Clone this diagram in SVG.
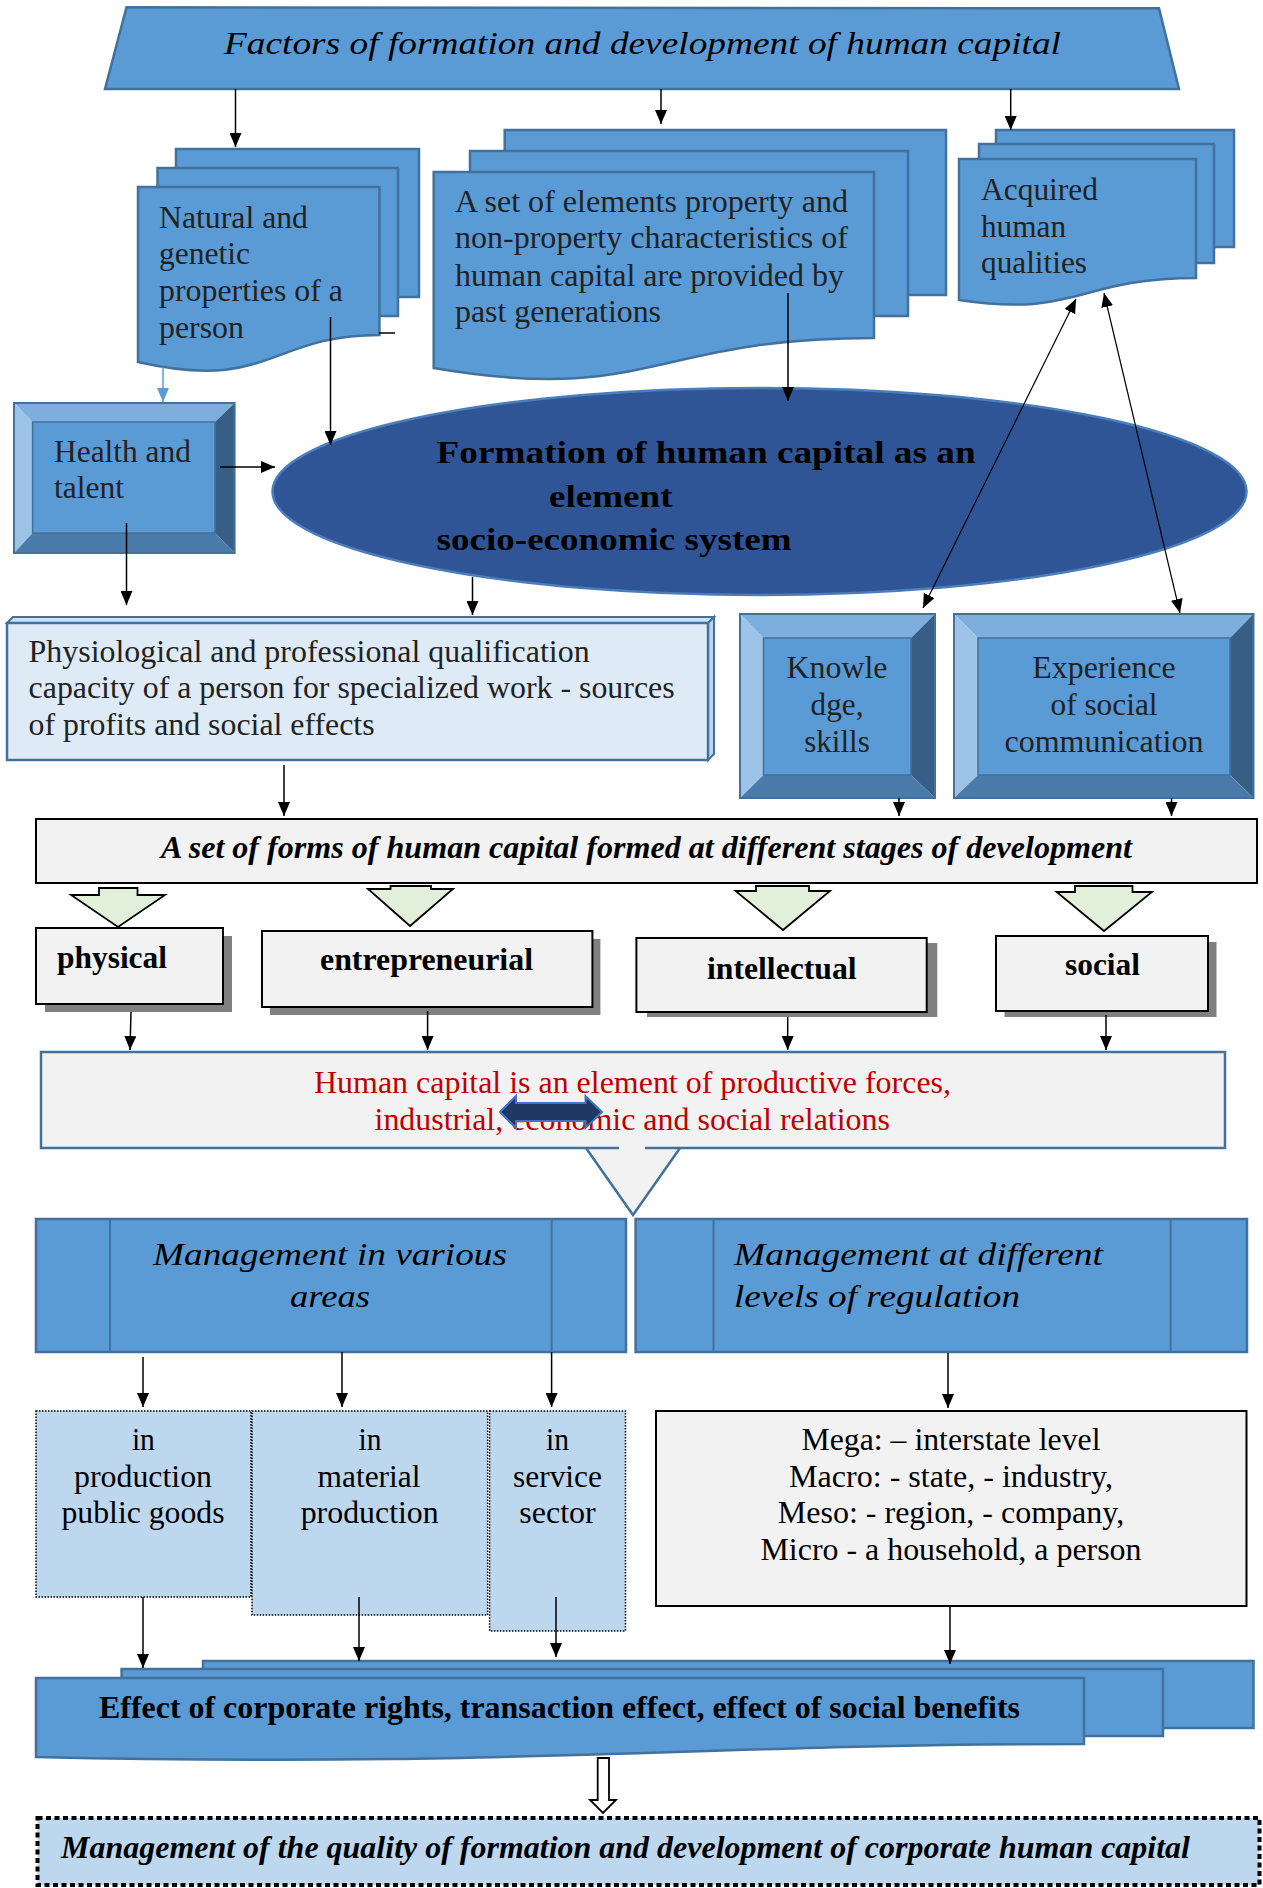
<svg xmlns="http://www.w3.org/2000/svg" width="1263" height="1888" viewBox="0 0 1263 1888">
<defs>
<style>
.doc{fill:#5b9bd5;stroke:#41719c;stroke-width:2.5}
.t{font-family:"Liberation Serif","Times New Roman",serif;font-size:31px;fill:#222}
.bd{font-weight:bold;fill:#000}
.it{font-style:italic;fill:#000}
.c{text-anchor:middle}
.bt{fill:#7eaede}.bl{fill:#9dc3e6}.br{fill:#375f86}.bb{fill:#4a7bab}
.bi{fill:#5b9bd5;stroke:#41719c;stroke-width:1.5}
.bo{fill:none;stroke:#41719c;stroke-width:2}
.grey{fill:#f2f2f2;stroke:#000;stroke-width:2}
.shadow{fill:#808080}
.garrow{fill:#e2efda;stroke:#000;stroke-width:1.8}
.dot{fill:#bdd7ee;stroke:#000;stroke-width:1.5;stroke-dasharray:1.5 1.5}
.conn line,.conn path{stroke:#000;stroke-width:1.5;fill:none}
</style>
<marker id="ah" viewBox="0 0 14 12" refX="14" refY="6" markerWidth="14" markerHeight="12" markerUnits="userSpaceOnUse" orient="auto-start-reverse"><path d="M0,0 L14,6 L0,12 z" fill="#000"/></marker>
<marker id="ahb" viewBox="0 0 14 12" refX="14" refY="6" markerWidth="14" markerHeight="12" markerUnits="userSpaceOnUse" orient="auto"><path d="M0,0 L14,6 L0,12 z" fill="#5b9bd5"/></marker>
</defs>
<rect width="1263" height="1888" fill="#fff"/>

<g id="title">
<polygon class="doc" points="126.5,7.3 1159,8.3 1179,89 105,89"/>
<text class="t it" x="224" y="54" font-size="35" textLength="837" lengthAdjust="spacingAndGlyphs">Factors of formation and development of human capital</text>
</g>

<g id="natural">
<rect class="doc" x="176" y="149" width="243" height="148"/>
<rect class="doc" x="157.5" y="168" width="240.5" height="148"/>
<path class="doc" d="M138,187 H379.4 V335 C270,335 270,392 138,362 Z"/>
<text class="t" x="159" y="228" textLength="149" lengthAdjust="spacingAndGlyphs">Natural and</text>
<text class="t" x="159" y="264" textLength="91" lengthAdjust="spacingAndGlyphs">genetic</text>
<text class="t" x="159" y="301" textLength="184" lengthAdjust="spacingAndGlyphs">properties of a</text>
<text class="t" x="159" y="338" textLength="85" lengthAdjust="spacingAndGlyphs">person</text>
</g>

<g id="set-elements">
<rect class="doc" x="504.7" y="130" width="441.3" height="165"/>
<rect class="doc" x="470" y="151" width="438" height="165"/>
<path class="doc" d="M433.7,172 H874 V338 C650,338 650,405 433.7,368 Z"/>
<text class="t" x="455" y="212" textLength="393" lengthAdjust="spacingAndGlyphs">A set of elements property and</text>
<text class="t" x="455" y="248" textLength="393" lengthAdjust="spacingAndGlyphs">non-property characteristics of</text>
<text class="t" x="455" y="286" textLength="389" lengthAdjust="spacingAndGlyphs">human capital are provided by</text>
<text class="t" x="455" y="322" textLength="206" lengthAdjust="spacingAndGlyphs">past generations</text>
</g>

<g id="acquired">
<rect class="doc" x="996" y="130" width="238" height="117"/>
<rect class="doc" x="979" y="144" width="235" height="119"/>
<path class="doc" d="M959,159 H1196 V278 C1078,278 1078,318 959,300 Z"/>
<text class="t" x="981" y="200" textLength="117" lengthAdjust="spacingAndGlyphs">Acquired</text>
<text class="t" x="981" y="237" textLength="85" lengthAdjust="spacingAndGlyphs">human</text>
<text class="t" x="981" y="273" textLength="106" lengthAdjust="spacingAndGlyphs">qualities</text>
</g>

<g id="health">
<polygon class="bt" points="14,403 234.6,403 215,422 32.6,422"/>
<polygon class="bl" points="14,403 32.6,422 32.6,533 14,553"/>
<polygon class="br" points="234.6,403 234.6,553 215,533 215,422"/>
<polygon class="bb" points="14,553 32.6,533 215,533 234.6,553"/>
<rect class="bi" x="32.6" y="422" width="182.4" height="111"/>
<rect class="bo" x="14" y="403" width="220.6" height="150"/>
<text class="t" x="54" y="462" textLength="137" lengthAdjust="spacingAndGlyphs">Health and</text>
<text class="t" x="54" y="498" textLength="70" lengthAdjust="spacingAndGlyphs">talent</text>
</g>

<g id="formation">
<ellipse cx="759.5" cy="491.5" rx="487" ry="103.5" fill="#2f5597" stroke="#4a7ebb" stroke-width="2.5"/>
<text class="t bd" x="436.6" y="463" font-size="34" textLength="539" lengthAdjust="spacingAndGlyphs">Formation of human capital as an</text>
<text class="t bd" x="549" y="507" font-size="34" textLength="123.5" lengthAdjust="spacingAndGlyphs">element</text>
<text class="t bd" x="436.6" y="550" font-size="34" textLength="355" lengthAdjust="spacingAndGlyphs">socio-economic system</text>
</g>

<g id="physiological">
<polygon points="7,623 13,617 714,617 708,623" fill="#cfe0f2" stroke="#41719c" stroke-width="2"/>
<polygon points="708,623 714,617 714,754 708,760" fill="#bcd3ea" stroke="#41719c" stroke-width="2"/>
<rect x="7" y="623" width="701" height="137" fill="#deebf7" stroke="#41719c" stroke-width="2.5"/>
<text class="t" x="28.6" y="662" textLength="561" lengthAdjust="spacingAndGlyphs">Physiological and professional qualification</text>
<text class="t" x="28.6" y="698" textLength="646" lengthAdjust="spacingAndGlyphs">capacity of a person for specialized work - sources</text>
<text class="t" x="28.6" y="735" textLength="346" lengthAdjust="spacingAndGlyphs">of profits and social effects</text>
</g>

<g id="knowledge">
<polygon class="bt" points="740,614 935,614 911,638 763.5,638"/>
<polygon class="bl" points="740,614 763.5,638 763.5,775 740,798"/>
<polygon class="br" points="935,614 935,798 911,775 911,638"/>
<polygon class="bb" points="740,798 763.5,775 911,775 935,798"/>
<rect class="bi" x="763.5" y="638" width="147.5" height="137"/>
<rect class="bo" x="740" y="614" width="195" height="184"/>
<text class="t c" x="837" y="678" textLength="101" lengthAdjust="spacingAndGlyphs">Knowle</text>
<text class="t c" x="837" y="715" textLength="53" lengthAdjust="spacingAndGlyphs">dge,</text>
<text class="t c" x="837" y="752" textLength="65.6" lengthAdjust="spacingAndGlyphs">skills</text>
</g>

<g id="experience">
<polygon class="bt" points="954,614 1253.5,614 1230,638 978,638"/>
<polygon class="bl" points="954,614 978,638 978,775 954,798"/>
<polygon class="br" points="1253.5,614 1253.5,798 1230,775 1230,638"/>
<polygon class="bb" points="954,798 978,775 1230,775 1253.5,798"/>
<rect class="bi" x="978" y="638" width="252" height="137"/>
<rect class="bo" x="954" y="614" width="299.5" height="184"/>
<text class="t c" x="1104" y="678" textLength="143.5" lengthAdjust="spacingAndGlyphs">Experience</text>
<text class="t c" x="1104" y="715" textLength="107" lengthAdjust="spacingAndGlyphs">of social</text>
<text class="t c" x="1104" y="752" textLength="199" lengthAdjust="spacingAndGlyphs">communication</text>
</g>

<g id="set-forms">
<rect class="grey" x="36" y="819" width="1221" height="64"/>
<text class="t bd it" x="161" y="858" font-size="30" textLength="971" lengthAdjust="spacingAndGlyphs">A set of forms of human capital formed at different stages of development</text>
</g>

<g id="form-arrows">
<polygon class="garrow" points="99,888 137.5,888 137.5,895 165,895 118,927 71,895 99,895"/>
<polygon class="garrow" points="390.5,886 431,886 431,889 453,889 410,926 368,889 390.5,889"/>
<polygon class="garrow" points="756,886 809,886 809,891 830,891 783,930 735.6,891 756,891"/>
<polygon class="garrow" points="1075,886 1132.5,886 1132.5,892 1152,892 1104,931 1056.6,892 1075,892"/>
</g>

<g id="physical">
<rect class="shadow" x="45" y="936" width="187" height="76"/>
<rect class="grey" x="36" y="928" width="187" height="76"/>
<text class="t bd" x="57" y="968" textLength="110" lengthAdjust="spacingAndGlyphs">physical</text>
</g>
<g id="entrepreneurial">
<rect class="shadow" x="270" y="939" width="330.4" height="76"/>
<rect class="grey" x="262" y="931" width="330.4" height="76"/>
<text class="t bd" x="320" y="970" textLength="213" lengthAdjust="spacingAndGlyphs">entrepreneurial</text>
</g>
<g id="intellectual">
<rect class="shadow" x="647" y="943" width="290.3" height="74"/>
<rect class="grey" x="636.4" y="938" width="290.3" height="74"/>
<text class="t bd" x="707" y="979" textLength="149.6" lengthAdjust="spacingAndGlyphs">intellectual</text>
</g>
<g id="social">
<rect class="shadow" x="1004.5" y="942" width="212" height="75"/>
<rect class="grey" x="996" y="936" width="212" height="75"/>
<text class="t bd" x="1065" y="975" textLength="75" lengthAdjust="spacingAndGlyphs">social</text>
</g>

<g id="human-capital">
<path d="M41,1052 H1225 V1148 H680 L633,1215 L586,1148 H41 Z" fill="#f2f2f2" stroke="#41719c" stroke-width="2.5"/>
<line x1="586" y1="1148" x2="619" y2="1148" stroke="#41719c" stroke-width="2.5"/>
<line x1="645" y1="1148" x2="680" y2="1148" stroke="#41719c" stroke-width="2.5"/>
<text class="t" x="314" y="1093" fill="#c00000" style="fill:#c00000" textLength="637" lengthAdjust="spacingAndGlyphs">Human capital is an element of productive forces,</text>
<text class="t" x="374.5" y="1130" style="fill:#c00000" textLength="515.5" lengthAdjust="spacingAndGlyphs">industrial, economic and social relations</text>
<polygon points="500,1112 516,1096 516,1103 585.5,1103 585.5,1096 602,1112 585.5,1128 585.5,1121 516,1121 516,1128" fill="#1f3864" stroke="#4472c4" stroke-width="2"/>
</g>

<g id="mgmt-areas">
<rect class="doc" x="36" y="1219" width="590" height="133"/>
<line x1="110" y1="1219" x2="110" y2="1352" stroke="#41719c" stroke-width="2"/>
<line x1="551.6" y1="1219" x2="551.6" y2="1352" stroke="#41719c" stroke-width="2"/>
<text class="t it c" x="330" y="1265" font-size="37" textLength="354" lengthAdjust="spacingAndGlyphs">Management in various</text>
<text class="t it c" x="330" y="1307" font-size="37" textLength="80" lengthAdjust="spacingAndGlyphs">areas</text>
</g>

<g id="mgmt-levels">
<rect class="doc" x="635.6" y="1219" width="611.4" height="133"/>
<line x1="713.5" y1="1219" x2="713.5" y2="1352" stroke="#41719c" stroke-width="2"/>
<line x1="1170.6" y1="1219" x2="1170.6" y2="1352" stroke="#41719c" stroke-width="2"/>
<text class="t it" x="734" y="1265" font-size="37" textLength="369" lengthAdjust="spacingAndGlyphs">Management at different</text>
<text class="t it" x="734" y="1307" font-size="37" textLength="286" lengthAdjust="spacingAndGlyphs">levels of regulation</text>
</g>

<g id="public-goods">
<rect class="dot" x="36" y="1411" width="215" height="186"/>
<text class="t c" x="143.4" y="1450" style="fill:#000" textLength="23" lengthAdjust="spacingAndGlyphs">in</text>
<text class="t c" x="143" y="1487" style="fill:#000" textLength="138" lengthAdjust="spacingAndGlyphs">production</text>
<text class="t c" x="143" y="1523" style="fill:#000" textLength="163" lengthAdjust="spacingAndGlyphs">public goods</text>
</g>
<g id="material">
<rect class="dot" x="252" y="1411" width="235.6" height="204"/>
<text class="t c" x="370" y="1450" style="fill:#000" textLength="23" lengthAdjust="spacingAndGlyphs">in</text>
<text class="t c" x="369" y="1487" style="fill:#000" textLength="103" lengthAdjust="spacingAndGlyphs">material</text>
<text class="t c" x="369.7" y="1523" style="fill:#000" textLength="138" lengthAdjust="spacingAndGlyphs">production</text>
</g>
<g id="service">
<rect class="dot" x="489.6" y="1411" width="135.9" height="220"/>
<text class="t c" x="557.5" y="1450" style="fill:#000" textLength="23" lengthAdjust="spacingAndGlyphs">in</text>
<text class="t c" x="557.5" y="1487" style="fill:#000" textLength="89" lengthAdjust="spacingAndGlyphs">service</text>
<text class="t c" x="557.5" y="1523" style="fill:#000" textLength="76.5" lengthAdjust="spacingAndGlyphs">sector</text>
</g>

<g id="levels">
<rect class="grey" x="656" y="1411" width="590.5" height="195"/>
<text class="t c" x="951" y="1450" style="fill:#000" textLength="299" lengthAdjust="spacingAndGlyphs">Mega: – interstate level</text>
<text class="t c" x="951" y="1487" style="fill:#000" textLength="324" lengthAdjust="spacingAndGlyphs">Macro: - state, - industry,</text>
<text class="t c" x="951" y="1523" style="fill:#000" textLength="346.5" lengthAdjust="spacingAndGlyphs">Meso: - region, - company,</text>
<text class="t c" x="951" y="1560" style="fill:#000" textLength="381" lengthAdjust="spacingAndGlyphs">Micro - a household, a person</text>
</g>

<g id="effect">
<rect class="doc" x="203" y="1661" width="1050.5" height="67"/>
<rect class="doc" x="121.6" y="1669" width="1041.4" height="67"/>
<path class="doc" d="M36,1678 H1084 V1744 C700,1744 500,1768 36,1757 Z"/>
<text class="t bd" x="99" y="1718" font-size="29" textLength="921" lengthAdjust="spacingAndGlyphs">Effect of corporate rights, transaction effect, effect of social benefits</text>
</g>

<g id="quality">
<rect x="37.5" y="1818" width="1222" height="67" fill="#bdd7ee" stroke="#000" stroke-width="4" stroke-dasharray="5 3.5"/>
<text class="t bd it" x="61" y="1858" font-size="29" textLength="1129" lengthAdjust="spacingAndGlyphs">Management of the quality of formation and development of corporate human capital</text>
</g>

<g id="connectors" class="conn">
<line x1="235.5" y1="89" x2="235.5" y2="147" marker-end="url(#ah)"/>
<line x1="661" y1="89" x2="661" y2="124" marker-end="url(#ah)"/>
<line x1="1010.7" y1="89" x2="1010.7" y2="130" marker-end="url(#ah)"/>
<line x1="163" y1="367" x2="163" y2="402" style="stroke:#5b9bd5" marker-end="url(#ahb)"/>
<line x1="379" y1="333" x2="395" y2="333"/>
<line x1="330.5" y1="317" x2="330.5" y2="445" marker-end="url(#ah)"/>
<line x1="788" y1="293" x2="788" y2="401" marker-end="url(#ah)"/>
<line x1="220" y1="467" x2="275" y2="467" marker-end="url(#ah)"/>
<line x1="126.5" y1="523" x2="126.5" y2="605" marker-end="url(#ah)"/>
<line x1="472.5" y1="577" x2="472.5" y2="615" marker-end="url(#ah)"/>
<line x1="1076" y1="299" x2="923" y2="608" style="stroke-width:1.2" marker-start="url(#ah)" marker-end="url(#ah)"/>
<line x1="1104" y1="293" x2="1180" y2="613" style="stroke-width:1.2" marker-start="url(#ah)" marker-end="url(#ah)"/>
<line x1="284" y1="765" x2="284" y2="816" marker-end="url(#ah)"/>
<line x1="899" y1="798" x2="899" y2="816" marker-end="url(#ah)"/>
<line x1="1171.5" y1="798" x2="1171.5" y2="816" marker-end="url(#ah)"/>
<line x1="131" y1="1012" x2="130" y2="1050" marker-end="url(#ah)"/>
<line x1="427.6" y1="1011" x2="427.6" y2="1050" marker-end="url(#ah)"/>
<line x1="787.7" y1="1017" x2="787.7" y2="1050" marker-end="url(#ah)"/>
<line x1="1106" y1="1015" x2="1106" y2="1050" marker-end="url(#ah)"/>
<line x1="143" y1="1357" x2="143" y2="1407" marker-end="url(#ah)"/>
<line x1="342" y1="1352" x2="342" y2="1407" marker-end="url(#ah)"/>
<line x1="551.6" y1="1352" x2="551.6" y2="1407" marker-end="url(#ah)"/>
<line x1="948" y1="1353" x2="948" y2="1408" marker-end="url(#ah)"/>
<line x1="143" y1="1597" x2="143" y2="1668" marker-end="url(#ah)"/>
<line x1="359" y1="1597" x2="359" y2="1661" marker-end="url(#ah)"/>
<line x1="556" y1="1597" x2="556" y2="1657" marker-end="url(#ah)"/>
<line x1="950" y1="1606" x2="950" y2="1664" marker-end="url(#ah)"/>
<path d="M597.7,1758 H609 V1800 H616 L603,1813 L590,1800 H597.7 Z" style="fill:#fff;stroke-width:1.8"/>
</g>
</svg>
